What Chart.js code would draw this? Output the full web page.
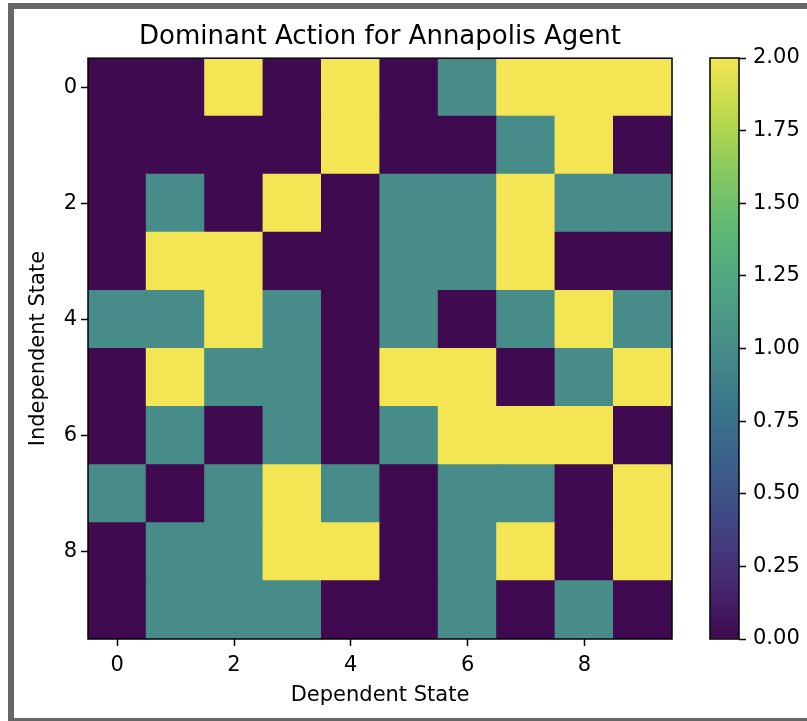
<!DOCTYPE html>
<html>
<head>
<meta charset="utf-8">
<title>Dominant Action for Annapolis Agent</title>
<script src="https://cdn.jsdelivr.net/npm/chart.js@4.4.1/dist/chart.umd.min.js"></script>
<style>
    html, body { margin: 0; padding: 0; background: #fff; overflow: hidden; }
    body { width: 807px; height: 721px; position: relative; }
    .frame { position: absolute; left: 8px; top: 3px; width: 820px; height: 721px; border: 6px solid #666; box-sizing: border-box; }
    #heatmap { position: absolute; left: 0; top: 0; }
    #colorbar { position: absolute; left: 700px; top: 0; }
</style>
</head>
<body>
<div class="frame"></div>
<canvas id="heatmap" width="807" height="721"></canvas>
<canvas id="colorbar" width="107" height="721"></canvas>
<script>
// Data (rows = independent state, cols = dependent state)
const states = [0, 1, 2, 3, 4, 5, 6, 7, 8, 9];
const xTicks = [0, 2, 4, 6, 8];
const yTicks = [0, 2, 4, 6, 8];
const cbTicks = [0, 0.25, 0.5, 0.75, 1, 1.25, 1.5, 1.75, 2];
const cbMin = 0;
const cbMax = 2;

const row0 = [0, 0, 2, 0, 2, 0, 1, 2, 2, 2];
const row1 = [0, 0, 0, 0, 2, 0, 0, 1, 2, 0];
const row2 = [0, 1, 0, 2, 0, 1, 1, 2, 1, 1];
const row3 = [0, 2, 2, 0, 0, 1, 1, 2, 0, 0];
const row4 = [1, 1, 2, 1, 0, 1, 0, 1, 2, 1];
const row5 = [0, 2, 1, 1, 0, 2, 2, 0, 1, 2];
const row6 = [0, 1, 0, 1, 0, 1, 2, 2, 2, 0];
const row7 = [1, 0, 1, 2, 1, 0, 1, 1, 0, 2];
const row8 = [0, 1, 1, 2, 2, 0, 1, 2, 0, 2];
const row9 = [0, 1, 1, 1, 0, 0, 1, 0, 1, 0];
const dominantAction = [row0, row1, row2, row3, row4, row5, row6, row7, row8, row9];

// viridis (as it looks in the screenshot) for action 0 / 1 / 2
const palette = ['#3f0a50', '#478c88', '#f4e554'];
const viridisStops = ['#3f0a50', '#462a72', '#424684', '#3b5f8a', '#3a768a',
    '#478c88', '#4ea384', '#5db776', '#86c861', '#bcd94a', '#f4e554'];

Chart.defaults.font.family = "'DejaVu Sans', sans-serif";
Chart.defaults.color = '#000';

// black box round the plot area, like matplotlib spines
const spines = {
    id: 'spines',
    afterDatasetsDraw(chart) {
        const { ctx, chartArea: a } = chart;
        ctx.save();
        ctx.strokeStyle = '#000';
        ctx.lineWidth = 1.5;
        ctx.strokeRect(a.left, a.top, a.right - a.left, a.bottom - a.top);
        ctx.restore();
    }
};

const cells = [];
const cellColors = [];
dominantAction.forEach((row, r) => {
    row.forEach((v, c) => {
        cells.push({ x: states[c], y: [states[r] - 0.5, states[r] + 0.5] });
        cellColors.push(palette[v]);
    });
});

const tickFont = { size: 21 };
const tickGrid = { offset: false, drawOnChartArea: false, drawTicks: true, tickLength: 7, tickWidth: 1.5, tickColor: '#000' };

new Chart(document.getElementById('heatmap'), {
    type: 'bar',
    data: {
        datasets: [{
            data: cells,
            backgroundColor: cellColors,
            borderWidth: 0,
            inflateAmount: 0.6,
            barPercentage: 1,
            categoryPercentage: 1
        }]
    },
    options: {
        responsive: false,
        animation: false,
        devicePixelRatio: 1,
        layout: { padding: { left: 0, right: 135, top: 0, bottom: 0 } },
        plugins: {
            legend: { display: false },
            tooltip: { enabled: false },
            title: {
                display: true,
                text: 'Dominant Action for Annapolis Agent',
                fullSize: false,
                color: '#000',
                font: { size: 26, weight: 'normal' },
                padding: { top: 22, bottom: 5 }
            }
        },
        scales: {
            x: {
                type: 'linear',
                min: states[0] - 0.5,
                max: states[states.length - 1] + 0.5,
                offset: false,
                afterBuildTicks: s => { s.ticks = xTicks.map(v => ({ value: v })); },
                afterFit: s => { s.height = 82; },
                grid: tickGrid,
                border: { display: false },
                ticks: { font: tickFont, padding: 7, maxRotation: 0, autoSkip: false },
                title: { display: true, text: 'Dependent State', font: tickFont, padding: { top: 0, bottom: 13 } }
            },
            y: {
                type: 'linear',
                reverse: true,
                min: states[0] - 0.5,
                max: states[states.length - 1] + 0.5,
                afterBuildTicks: s => { s.ticks = yTicks.map(v => ({ value: v })); },
                afterFit: s => { s.width = 88; },
                grid: tickGrid,
                border: { display: false },
                ticks: { font: tickFont, padding: 4, autoSkip: false },
                title: { display: true, text: 'Independent State', font: tickFont, padding: { top: 26, bottom: 0 } }
            }
        }
    },
    plugins: [spines]
});

function colorbarFill(context) {
    const chart = context.chart;
    const y = chart.scales.y;
    if (!y || !chart.chartArea) return palette[1];
    const g = chart.ctx.createLinearGradient(0, y.getPixelForValue(cbMin), 0, y.getPixelForValue(cbMax));
    viridisStops.forEach((c, i) => g.addColorStop(i / (viridisStops.length - 1), c));
    return g;
}

new Chart(document.getElementById('colorbar'), {
    type: 'bar',
    data: {
        labels: ['action'],
        datasets: [{
            data: [[cbMin, cbMax]],
            backgroundColor: colorbarFill,
            borderWidth: 0,
            barPercentage: 1,
            categoryPercentage: 1
        }]
    },
    options: {
        responsive: false,
        animation: false,
        devicePixelRatio: 1,
        layout: { padding: { left: 10, right: 0, top: 58, bottom: 82 } },
        plugins: {
            legend: { display: false },
            tooltip: { enabled: false },
            title: { display: false }
        },
        scales: {
            x: { display: false },
            y: {
                position: 'right',
                min: cbMin,
                max: cbMax,
                afterBuildTicks: s => { s.ticks = cbTicks.map(v => ({ value: v })); },
                afterFit: s => { s.width = 68; },
                grid: tickGrid,
                border: { display: false },
                ticks: { font: tickFont, padding: 7, autoSkip: false, callback: v => Number(v).toFixed(2) }
            }
        }
    },
    plugins: [spines]
});
</script>
</body>
</html>
